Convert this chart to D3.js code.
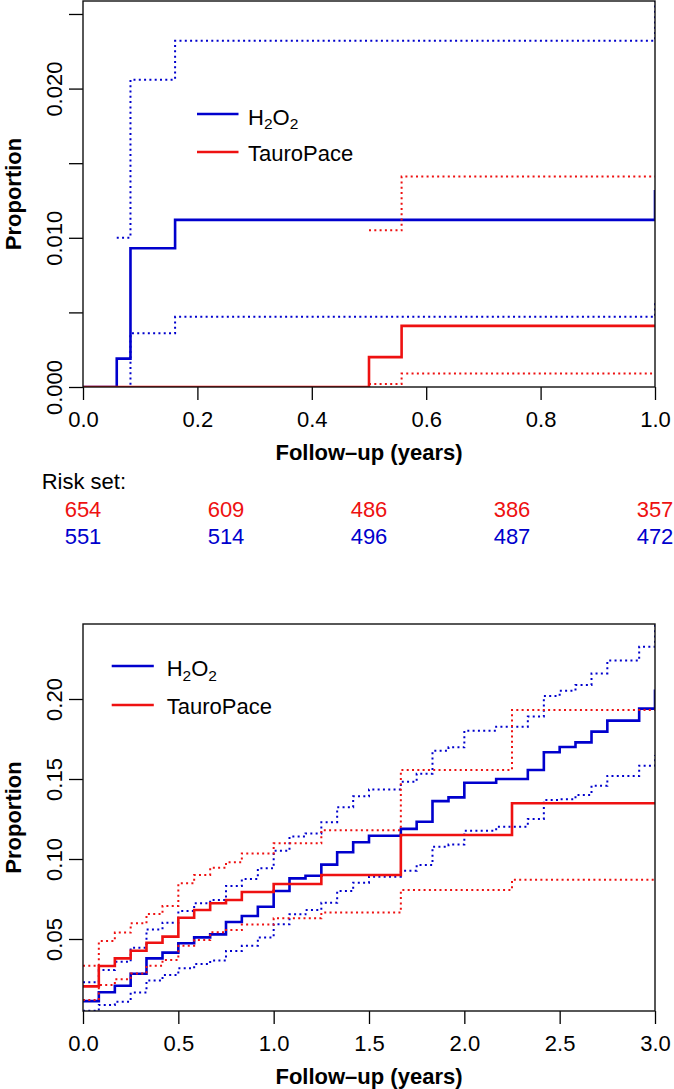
<!DOCTYPE html>
<html>
<head>
<meta charset="utf-8">
<script src="https://cdn.jsdelivr.net/npm/d3@7"></script>
<style>
  html, body { margin: 0; padding: 0; background: #fff; }
  svg { display: block; }
  text { font-family: "Liberation Sans", Arial, Helvetica, sans-serif; }
</style>
</head>
<body>
<svg id="chart" width="674" height="1089"></svg>
<script>
// ---------------- DATA ----------------
const seriesNames = ["H2O2", "TauroPace"];

// Top panel (first year)
const topXTicks = [0, 0.2, 0.4, 0.6, 0.8, 1.0];
const topXTickLabels = ["0.0", "0.2", "0.4", "0.6", "0.8", "1.0"];
const topYTicks = [0, 0.005, 0.010, 0.015, 0.020, 0.025];
const topYTickLabels = ["0.000", "", "0.010", "", "0.020", ""];

const topBlueTimes  = [0, 0.059, 0.083, 0.161, 1.0, 1.0];
const topBlueEst    = [0, 0.0019, 0.0093, 0.0112, 0.0112, 0.0132];
const topBlueUpTimes = [0.059, 0.083, 0.161, 1.0, 1.0];
const topBlueUpper  = [0.0100, 0.0206, 0.0232, 0.0232, 0.0270];
const topBlueLoTimes = [0.059, 0.083, 0.161, 1.0, 1.0];
const topBlueLower  = [0.0000, 0.0036, 0.0047, 0.0047, 0.0058];

const topRedTimes   = [0, 0.500, 0.557, 1.0];
const topRedEst     = [0, 0.0020, 0.0041, 0.0041];
const topRedCITimes = [0.500, 0.557, 1.0];
const topRedUpper   = [0.0105, 0.0141, 0.0141];
const topRedLower   = [0.0002, 0.0009, 0.0009];

// Risk set table
const riskTimes = [0, 0.25, 0.5, 0.75, 1.0];
const riskRed   = [654, 609, 486, 386, 357];
const riskBlue  = [551, 514, 496, 487, 472];

// Bottom panel (three years)
const botXTicks = [0, 0.5, 1.0, 1.5, 2.0, 2.5, 3.0];
const botXTickLabels = ["0.0", "0.5", "1.0", "1.5", "2.0", "2.5", "3.0"];
const botYTicks = [0.05, 0.10, 0.15, 0.20];
const botYTickLabels = ["0.05", "0.10", "0.15", "0.20"];

const botBlueTimes = [0, 0.083, 0.167, 0.25, 0.333, 0.417, 0.5, 0.583, 0.667, 0.75, 0.833, 0.917,
                      1.0, 1.083, 1.167, 1.25, 1.333, 1.417, 1.5, 1.667, 1.75, 1.833, 1.917, 2.0,
                      2.167, 2.333, 2.417, 2.5, 2.583, 2.667, 2.75, 2.917, 3.0, 3.0];
const botBlueEst   = [0.0112, 0.0167, 0.0208, 0.0283, 0.0379, 0.0415, 0.0473, 0.0510, 0.0529, 0.0606, 0.0644, 0.0702,
                      0.0800, 0.0879, 0.0895, 0.0965, 0.1042, 0.1105, 0.1145, 0.1188, 0.1233, 0.1362, 0.1385, 0.1477,
                      0.1500, 0.1556, 0.1667, 0.1700, 0.1729, 0.1796, 0.1865, 0.1940, 0.1940, 0.2060];
const botBlueLower = [0.0052, 0.0088, 0.0108, 0.0165, 0.0240, 0.0275, 0.0317, 0.0344, 0.0365, 0.0425, 0.0458, 0.0510,
                      0.0592, 0.0654, 0.0681, 0.0727, 0.0800, 0.0852, 0.0889, 0.0927, 0.0963, 0.1077, 0.1090, 0.1177,
                      0.1202, 0.1250, 0.1369, 0.1373, 0.1400, 0.1458, 0.1519, 0.1583, 0.1583, 0.1650];
const botBlueUpper = [0.0229, 0.0306, 0.0358, 0.0446, 0.0560, 0.0602, 0.0675, 0.0723, 0.0744, 0.0831, 0.0875, 0.0942,
                      0.1052, 0.1140, 0.1160, 0.1230, 0.1323, 0.1392, 0.1435, 0.1483, 0.1533, 0.1677, 0.1698, 0.1802,
                      0.1827, 0.1890, 0.2019, 0.2052, 0.2088, 0.2160, 0.2240, 0.2327, 0.2327, 0.2500];

const botRedTimes = [0, 0.083, 0.167, 0.25, 0.333, 0.417, 0.5, 0.583, 0.667, 0.75, 0.833, 1.0, 1.25, 1.667, 2.25, 3.0];
const botRedEst   = [0.0204, 0.0331, 0.0379, 0.0427, 0.0477, 0.0515, 0.0633, 0.0681, 0.0723, 0.0744, 0.0794, 0.0844, 0.0900, 0.1150, 0.1348, 0.1348];
const botRedLower = [0.0119, 0.0212, 0.0248, 0.0285, 0.0333, 0.0369, 0.0458, 0.0494, 0.0542, 0.0556, 0.0590, 0.0629, 0.0665, 0.0806, 0.0871, 0.0871];
const botRedUpper = [0.0333, 0.0487, 0.0540, 0.0598, 0.0656, 0.0706, 0.0848, 0.0900, 0.0946, 0.0980, 0.1035, 0.1098, 0.1180, 0.1556, 0.1931, 0.1931];

// ---------------- STYLE ----------------
const BLUE = "#0000CD";
const RED = "#EE1111";
const FONT = 22;

const svg = d3.select("#chart");

function zip(ts, vs) { return ts.map((t, i) => [t, vs[i]]); }

function panel(cfg) {
  const x = d3.scaleLinear().domain(cfg.xDomain).range([83, 655]);
  const y = d3.scaleLinear().domain(cfg.yDomain).range(cfg.yRange);
  const g = svg.append("g");

  const clipId = "clip" + cfg.id;
  svg.append("defs").append("clipPath").attr("id", clipId)
    .append("rect")
    .attr("x", x.range()[0]).attr("y", y.range()[1])
    .attr("width", x.range()[1] - x.range()[0])
    .attr("height", y.range()[0] - y.range()[1]);

  const line = d3.line().x(d => x(d[0])).y(d => y(d[1])).curve(d3.curveStepAfter);
  const lines = g.append("g").attr("clip-path", `url(#${clipId})`);
  cfg.series.forEach(s => {
    lines.append("path")
      .attr("d", line(zip(s.t, s.v)))
      .attr("fill", "none")
      .attr("stroke", s.color)
      .attr("stroke-width", s.dotted ? 2 : 2.6)
      .attr("stroke-dasharray", s.dotted ? "2,3.3" : null)
      .attr("stroke-linecap", "butt");
  });

  // x axis
  const xa = g.append("g").attr("transform", `translate(0,${y.range()[0]})`)
    .call(d3.axisBottom(x).tickValues(cfg.xTicks).tickSize(13)
      .tickFormat((d, i) => cfg.xTickLabels[i]));
  xa.select(".domain").remove();
  xa.selectAll(".tick line").attr("stroke", "#000").attr("stroke-width", 1.3);
  xa.selectAll(".tick text").attr("y", 40).attr("dy", 0)
    .attr("font-size", FONT).attr("fill", "#000")
    .attr("font-family", '"Liberation Sans", Arial, sans-serif');

  // y axis
  const ya = g.append("g").attr("transform", `translate(${x.range()[0]},0)`)
    .call(d3.axisLeft(y).tickValues(cfg.yTicks).tickSize(14)
      .tickFormat((d, i) => cfg.yTickLabels[i]));
  ya.select(".domain").remove();
  ya.selectAll(".tick line").attr("stroke", "#000").attr("stroke-width", 1.3);
  ya.selectAll(".tick text")
    .attr("x", 0).attr("y", 0).attr("dy", 0)
    .attr("transform", "translate(-21,0) rotate(-90)")
    .attr("text-anchor", "middle")
    .attr("font-size", FONT).attr("fill", "#000")
    .attr("font-family", '"Liberation Sans", Arial, sans-serif');

  // box
  g.append("rect")
    .attr("x", x.range()[0]).attr("y", y.range()[1])
    .attr("width", x.range()[1] - x.range()[0])
    .attr("height", y.range()[0] - y.range()[1])
    .attr("fill", "none").attr("stroke", "#111").attr("stroke-width", 1.4);

  // axis titles
  g.append("text")
    .attr("x", (x.range()[0] + x.range()[1]) / 2)
    .attr("y", y.range()[0] + 73)
    .attr("text-anchor", "middle")
    .attr("font-size", FONT).attr("font-weight", "bold")
    .text("Follow\u2013up (years)");
  g.append("text")
    .attr("transform", `translate(21,${(y.range()[0] + y.range()[1]) / 2}) rotate(-90)`)
    .attr("text-anchor", "middle")
    .attr("font-size", FONT).attr("font-weight", "bold")
    .text("Proportion");

  // legend
  const L = cfg.legend;
  [[BLUE, L.y[0], L.ty[0], true], [RED, L.y[1], L.ty[1], false]].forEach(([c, ly, ty, isH]) => {
    g.append("line").attr("x1", L.x0).attr("x2", L.x1).attr("y1", ly).attr("y2", ly)
      .attr("stroke", c).attr("stroke-width", 2.6);
    const t = g.append("text").attr("x", L.tx).attr("y", ty).attr("font-size", FONT).attr("fill", "#000");
    if (isH) {
      t.append("tspan").text("H");
      t.append("tspan").attr("font-size", 15.5).attr("dy", 4.5).text("2");
      t.append("tspan").attr("dy", -4.5).text("O");
      t.append("tspan").attr("font-size", 15.5).attr("dy", 4.5).text("2");
    } else {
      t.text("TauroPace");
    }
  });
  return { x, y };
}

const topPanel = panel({
  id: "top",
  xDomain: [0, 1], yDomain: [0, 0.02587], yRange: [387, 1],
  xTicks: topXTicks, xTickLabels: topXTickLabels,
  yTicks: topYTicks, yTickLabels: topYTickLabels,
  series: [
    { t: topBlueTimes, v: topBlueEst, color: BLUE },
    { t: topBlueUpTimes, v: topBlueUpper, color: BLUE, dotted: true },
    { t: topBlueLoTimes, v: topBlueLower, color: BLUE, dotted: true },
    { t: topRedTimes, v: topRedEst, color: RED },
    { t: topRedCITimes, v: topRedUpper, color: RED, dotted: true },
    { t: topRedCITimes, v: topRedLower, color: RED, dotted: true }
  ],
  legend: { x0: 197, x1: 238.5, tx: 248, y: [114, 152], ty: [124.5, 160.5] }
});

panel({
  id: "bot",
  xDomain: [0, 3], yDomain: [0.005, 0.246875], yRange: [1011, 624],
  xTicks: botXTicks, xTickLabels: botXTickLabels,
  yTicks: botYTicks, yTickLabels: botYTickLabels,
  series: [
    { t: botBlueTimes, v: botBlueEst, color: BLUE },
    { t: botBlueTimes, v: botBlueUpper, color: BLUE, dotted: true },
    { t: botBlueTimes, v: botBlueLower, color: BLUE, dotted: true },
    { t: botRedTimes, v: botRedEst, color: RED },
    { t: botRedTimes, v: botRedUpper, color: RED, dotted: true },
    { t: botRedTimes, v: botRedLower, color: RED, dotted: true }
  ],
  legend: { x0: 111.7, x1: 153.8, tx: 166.7, y: [666, 705], ty: [676, 713.5] }
});

// Risk set table
svg.append("text").attr("x", 41.7).attr("y", 489).attr("font-size", FONT).text("Risk set:");
svg.append("g").selectAll("text").data(riskRed).join("text")
  .attr("x", (d, i) => topPanel.x(riskTimes[i])).attr("y", 517)
  .attr("text-anchor", "middle").attr("font-size", FONT).attr("fill", RED)
  .text(d => d);
svg.append("g").selectAll("text").data(riskBlue).join("text")
  .attr("x", (d, i) => topPanel.x(riskTimes[i])).attr("y", 544)
  .attr("text-anchor", "middle").attr("font-size", FONT).attr("fill", BLUE)
  .text(d => d);
</script>
</body>
</html>
